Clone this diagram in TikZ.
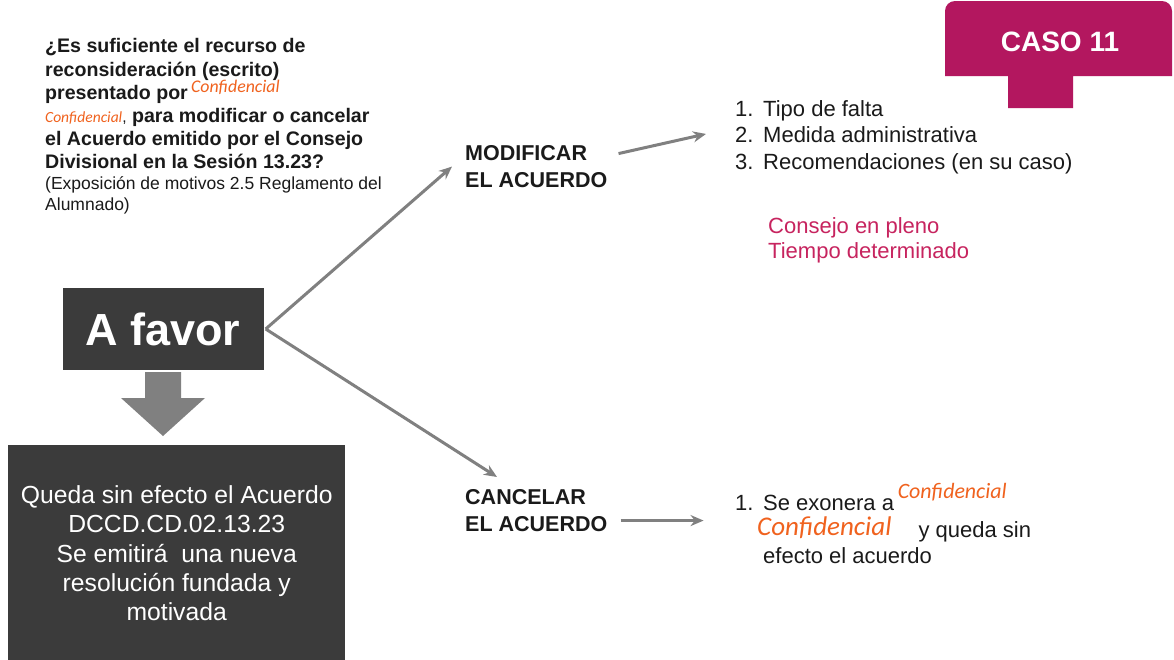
\documentclass[tikz,border=0pt]{standalone}
\usepackage{fontspec}
\setmainfont{Liberation Sans}
\newfontfamily\carl{Carlito}
\usetikzlibrary{arrows.meta,calc}
\definecolor{mag}{HTML}{B3175F}
\definecolor{darkbox}{HTML}{3B3B3B}
\definecolor{arrgray}{HTML}{808080}
\definecolor{orng}{HTML}{F0621E}
\definecolor{pinktxt}{HTML}{C7245F}
\definecolor{txt}{HTML}{1A1A1A}
\newcommand{\conf}[1]{{\carl\itshape\color{orng}#1}}
\newcommand{\sz}[2]{\fontsize{#1}{#2}\selectfont\lineskiplimit=-30pt\relax}
\begin{document}
\begin{tikzpicture}[x=1pt,y=-1pt,
  conn/.style={draw=arrgray, line width=3pt, -{Stealth[length=13pt,width=11pt]}},
  plain/.style={inner sep=0pt, anchor=north west, align=left, text=txt},
  darkbox/.style={fill=darkbox, text=white, inner sep=0pt}]
\useasboundingbox (0,0) rectangle (1174,659);
\fill[white] (0,0) rectangle (1174,659);

% CASO box
\fill[mag] (945,76) [rounded corners=10pt]-- (945,1) -- (1172,1) [sharp corners]-- (1172,76) -- (1073,76) -- (1073,108) -- (1008,108) -- (1008,76) -- cycle;
\node[text=white, font=\bfseries\sz{28}{28}] (caso) at (1060,42) {CASO 11};

% question
\node[plain, font=\bfseries\sz{19.6}{23.2}] (q) at (45,38.5) {%
¿Es suficiente el recurso de\\
reconsideración (escrito)\\
presentado por\,\smash{\raisebox{7pt}{\mdseries\fontsize{17.8}{15}\selectfont\conf{Confidencial}}}\\
{\mdseries\fontsize{15.5}{13}\selectfont\conf{Confidencial},} para modificar o cancelar\\
el Acuerdo emitido por el Consejo\\
Divisional en la Sesión 13.23?};
\node[plain, font=\sz{17.5}{21}] (qnote) at (45,176) {%
(Exposición de motivos 2.5 Reglamento del\\
Alumnado)};

% A favor
\node[darkbox, minimum width=201pt, minimum height=82pt, font=\bfseries\sz{45}{45}] (afav) at (163,329) {A favor};

% down arrow
\fill[arrgray] (145,372) -- (181,372) -- (181,398) -- (205,398) -- (163,436) -- (121,398) -- (145,398) -- cycle;

% result box
\node[darkbox, minimum width=337pt, minimum height=216pt, align=center, font=\sz{24.7}{29.2}, anchor=north west] (res) at (8,445) {%
Queda sin efecto el Acuerdo\\
DCCD.CD.02.13.23\\
Se emitirá \ una nueva\\
resolución fundada y\\
motivada};

% branches
\node[plain, font=\bfseries\sz{21.5}{27.5}] (mod) at (465,145) {MODIFICAR\\EL ACUERDO};
\node[plain, font=\bfseries\sz{21.5}{27.5}] (can) at (465,489) {CANCELAR\\EL ACUERDO};

\coordinate (a0) at ($(afav.east)+(2,0)$);
\draw[conn] (a0) -- ($(mod.west)+(-13,0)$);
\draw[conn] (a0) -- ($(can.north west)+(32,-12)$);

% modify list
\node[plain, font=\sz{22}{26.5}] (list) at (735,100) {%
\makebox[28pt][l]{1.}Tipo de falta\\
\makebox[28pt][l]{2.}Medida administrativa\\
\makebox[28pt][l]{3.}Recomendaciones (en su caso)};
\draw[conn] ($(mod.east)+(11,-13)$) -- ($(list.west)+(-29,-3)$);

\node[plain, text=pinktxt, font=\sz{22}{25.5}] (cons) at (768,217) {%
Consejo en pleno\\
Tiempo determinado};

% cancel list
\node[plain, font=\sz{22}{26.5}] (clist) at (735,495) {%
\makebox[28pt][l]{1.}Se exonera a\,\smash{\raisebox{12pt}{\fontsize{21.9}{19}\selectfont\conf{Confidencial}}}\\
\hspace{22pt}\smash{\raisebox{1.5pt}{\fontsize{27}{23}\selectfont\conf{Confidencial}}}\hspace{27pt}y queda sin\\
\hspace{28pt}efecto el acuerdo};
\draw[conn] ($(can.east)+(13,10)$) -- ($(can.east)+(96,10)$);
\end{tikzpicture}
\end{document}
